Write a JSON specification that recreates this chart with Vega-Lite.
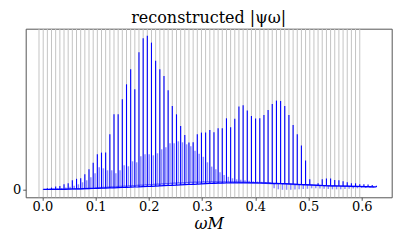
{
"$schema": "https://vega.github.io/schema/vega-lite/v6.json",
"width": 366, "height": 168.6,
"autosize": {"type": "none"},
"padding": {"left": 25.7, "top": 28.7, "right": 15, "bottom": 47},
"title": {"text": "reconstructed |ψω|", "font": "DejaVu Serif", "fontSize": 16, "fontWeight": "normal", "color": "#000", "offset": 2, "anchor": "middle"},
"config": {"view": {"stroke": "#555", "strokeWidth": 1},
  "axis": {"domain": false, "grid": false, "labelFont": "DejaVu Serif", "labelFontSize": 13, "labelColor": "#000", "tickColor": "#333", "tickSize": 3, "tickWidth": 0.8, "labelPadding": 0.5, "titleFont": "DejaVu Serif", "titleColor": "#000", "titleFontWeight": "normal"}},
"data": {"values": [
{"w":-0.0063,"s":"g"},{"w":0.0016,"s":"g"},{"w":0.0094,"s":"g"},{"w":0.0172,"s":"g"},{"w":0.0250,"s":"g"},{"w":0.0329,"s":"g"},{"w":0.0407,"s":"g"},{"w":0.0485,"s":"g"},{"w":0.0563,"s":"g"},{"w":0.0642,"s":"g"},
{"w":0.0720,"s":"g"},{"w":0.0798,"s":"g"},{"w":0.0876,"s":"g"},{"w":0.0955,"s":"g"},{"w":0.1033,"s":"g"},{"w":0.1111,"s":"g"},{"w":0.1189,"s":"g"},{"w":0.1268,"s":"g"},{"w":0.1346,"s":"g"},{"w":0.1424,"s":"g"},
{"w":0.1502,"s":"g"},{"w":0.1581,"s":"g"},{"w":0.1659,"s":"g"},{"w":0.1737,"s":"g"},{"w":0.1815,"s":"g"},{"w":0.1894,"s":"g"},{"w":0.1972,"s":"g"},{"w":0.2050,"s":"g"},{"w":0.2128,"s":"g"},{"w":0.2207,"s":"g"},
{"w":0.2285,"s":"g"},{"w":0.2363,"s":"g"},{"w":0.2441,"s":"g"},{"w":0.2520,"s":"g"},{"w":0.2598,"s":"g"},{"w":0.2676,"s":"g"},{"w":0.2754,"s":"g"},{"w":0.2833,"s":"g"},{"w":0.2911,"s":"g"},{"w":0.2989,"s":"g"},
{"w":0.3067,"s":"g"},{"w":0.3146,"s":"g"},{"w":0.3224,"s":"g"},{"w":0.3302,"s":"g"},{"w":0.3380,"s":"g"},{"w":0.3459,"s":"g"},{"w":0.3537,"s":"g"},{"w":0.3615,"s":"g"},{"w":0.3693,"s":"g"},{"w":0.3772,"s":"g"},
{"w":0.3850,"s":"g"},{"w":0.3928,"s":"g"},{"w":0.4006,"s":"g"},{"w":0.4085,"s":"g"},{"w":0.4163,"s":"g"},{"w":0.4241,"s":"g"},{"w":0.4319,"s":"g"},{"w":0.4398,"s":"g"},{"w":0.4476,"s":"g"},{"w":0.4554,"s":"g"},
{"w":0.4632,"s":"g"},{"w":0.4711,"s":"g"},{"w":0.4789,"s":"g"},{"w":0.4867,"s":"g"},{"w":0.4945,"s":"g"},{"w":0.5024,"s":"g"},{"w":0.5102,"s":"g"},{"w":0.5180,"s":"g"},{"w":0.5258,"s":"g"},{"w":0.5337,"s":"g"},
{"w":0.5415,"s":"g"},{"w":0.5493,"s":"g"},{"w":0.5571,"s":"g"},{"w":0.5650,"s":"g"},{"w":0.5728,"s":"g"},{"w":0.5806,"s":"g"},{"w":0.5884,"s":"g"},{"w":0.5963,"s":"g"},
{"w":0.0016,"lo":0,"hi":0.3,"s":"a"},{"w":0.0094,"lo":0,"hi":1,"s":"a"},{"w":0.0172,"lo":0,"hi":1.7,"s":"a"},{"w":0.0250,"lo":0,"hi":2.7,"s":"a"},{"w":0.0329,"lo":0,"hi":3.3,"s":"a"},
{"w":0.0407,"lo":0,"hi":5,"s":"a"},{"w":0.0485,"lo":0.2,"hi":6,"s":"a"},{"w":0.0563,"lo":0.3,"hi":9,"s":"a"},{"w":0.0642,"lo":0.4,"hi":10.5,"s":"a"},{"w":0.0720,"lo":0.5,"hi":11,"s":"a"},
{"w":0.0798,"lo":0.6,"hi":15,"s":"a"},{"w":0.0876,"lo":0.7,"hi":20,"s":"a"},{"w":0.0955,"lo":0.8,"hi":26.5,"s":"a"},{"w":0.1033,"lo":1,"hi":35,"s":"a"},{"w":0.1111,"lo":1.1,"hi":36.7,"s":"a"},
{"w":0.1189,"lo":1.2,"hi":36.7,"s":"a"},{"w":0.1268,"lo":1.4,"hi":55,"s":"a"},{"w":0.1346,"lo":1.5,"hi":75,"s":"a"},{"w":0.1424,"lo":1.7,"hi":75,"s":"a"},{"w":0.1502,"lo":1.8,"hi":90,"s":"a"},
{"w":0.1581,"lo":2,"hi":105,"s":"a"},{"w":0.1659,"lo":2.1,"hi":120,"s":"a"},{"w":0.1737,"lo":2.3,"hi":100,"s":"a"},{"w":0.1815,"lo":2.4,"hi":137,"s":"a"},{"w":0.1894,"lo":2.6,"hi":151,"s":"a"},
{"w":0.1972,"lo":2.8,"hi":153.5,"s":"a"},{"w":0.2050,"lo":3,"hi":146.7,"s":"a"},{"w":0.2128,"lo":3.2,"hi":128.5,"s":"a"},{"w":0.2207,"lo":3.4,"hi":120,"s":"a"},{"w":0.2285,"lo":3.6,"hi":113.3,"s":"a"},
{"w":0.2363,"lo":3.8,"hi":99,"s":"a"},{"w":0.2441,"lo":4,"hi":83.3,"s":"a"},{"w":0.2520,"lo":4.2,"hi":75,"s":"a"},{"w":0.2598,"lo":4.4,"hi":63.3,"s":"a"},{"w":0.2676,"lo":4.6,"hi":54.3,"s":"a"},
{"w":0.2754,"lo":4.8,"hi":46.7,"s":"a"},{"w":0.2833,"lo":5,"hi":47,"s":"a"},{"w":0.2911,"lo":5.2,"hi":55,"s":"a"},{"w":0.2989,"lo":5.4,"hi":56.7,"s":"a"},{"w":0.3067,"lo":5.6,"hi":56.7,"s":"a"},
{"w":0.3146,"lo":5.8,"hi":59.3,"s":"a"},{"w":0.3224,"lo":6,"hi":57,"s":"a"},{"w":0.3302,"lo":6.1,"hi":61,"s":"a"},{"w":0.3380,"lo":6.2,"hi":61,"s":"a"},{"w":0.3459,"lo":6.3,"hi":71,"s":"a"},
{"w":0.3537,"lo":6.4,"hi":62,"s":"a"},{"w":0.3615,"lo":6.5,"hi":70.5,"s":"a"},{"w":0.3693,"lo":6.5,"hi":82.7,"s":"a"},{"w":0.3772,"lo":6.5,"hi":84,"s":"a"},{"w":0.3850,"lo":6.5,"hi":78.7,"s":"a"},
{"w":0.3928,"lo":6.5,"hi":73.3,"s":"a"},{"w":0.4006,"lo":6.4,"hi":70.7,"s":"a"},{"w":0.4085,"lo":6.3,"hi":71,"s":"a"},{"w":0.4163,"lo":6.2,"hi":74.3,"s":"a"},{"w":0.4241,"lo":6.1,"hi":79.3,"s":"a"},
{"w":0.4319,"lo":6,"hi":85.3,"s":"a"},{"w":0.4398,"lo":5.9,"hi":88.7,"s":"a"},{"w":0.4476,"lo":5.8,"hi":88.3,"s":"a"},{"w":0.4554,"lo":5.6,"hi":83.3,"s":"a"},{"w":0.4632,"lo":5.4,"hi":74.3,"s":"a"},
{"w":0.4711,"lo":5.2,"hi":64.3,"s":"a"},{"w":0.4789,"lo":5,"hi":55,"s":"a"},{"w":0.4867,"lo":4.8,"hi":43.7,"s":"a"},{"w":0.4945,"lo":4.6,"hi":28.7,"s":"a"},{"w":0.5024,"lo":4.4,"hi":10,"s":"a"},
{"w":0.5102,"lo":4.2,"hi":4.4,"s":"a"},{"w":0.5180,"lo":4,"hi":6,"s":"a"},{"w":0.5258,"lo":3.8,"hi":10,"s":"a"},{"w":0.5337,"lo":3.6,"hi":10.7,"s":"a"},{"w":0.5415,"lo":3.5,"hi":10.7,"s":"a"},
{"w":0.5493,"lo":3.4,"hi":9.3,"s":"a"},{"w":0.5571,"lo":3.3,"hi":9,"s":"a"},{"w":0.5650,"lo":3.2,"hi":8,"s":"a"},{"w":0.5728,"lo":3.1,"hi":7,"s":"a"},{"w":0.5806,"lo":3,"hi":6,"s":"a"},
{"w":0.5884,"lo":2.9,"hi":6,"s":"a"},{"w":0.5963,"lo":2.8,"hi":5,"s":"a"},{"w":0.6041,"lo":2.7,"hi":5,"s":"a"},{"w":0.6119,"lo":2.6,"hi":4.7,"s":"a"},{"w":0.6197,"lo":2.5,"hi":4.3,"s":"a"},
{"w":0.6276,"lo":2.4,"hi":3.5,"s":"a"},
{"w":0.0129,"lo":0,"hi":0.3,"s":"b"},{"w":0.0207,"lo":0,"hi":0.5,"s":"b"},{"w":0.0285,"lo":0,"hi":0.8,"s":"b"},{"w":0.0364,"lo":0,"hi":1.2,"s":"b"},{"w":0.0442,"lo":0.1,"hi":1.8,"s":"b"},
{"w":0.0520,"lo":0.2,"hi":2.5,"s":"b"},{"w":0.0598,"lo":0.3,"hi":3.5,"s":"b"},{"w":0.0677,"lo":0.4,"hi":5,"s":"b"},{"w":0.0755,"lo":0.6,"hi":7,"s":"b"},{"w":0.0833,"lo":0.8,"hi":9,"s":"b"},
{"w":0.0911,"lo":1,"hi":12,"s":"b"},{"w":0.0990,"lo":1.2,"hi":16,"s":"b"},{"w":0.1068,"lo":1.5,"hi":22,"s":"b"},{"w":0.1146,"lo":1.8,"hi":21,"s":"b"},{"w":0.1224,"lo":2,"hi":19,"s":"b"},
{"w":0.1303,"lo":2.3,"hi":19,"s":"b"},{"w":0.1381,"lo":2.5,"hi":16,"s":"b"},{"w":0.1459,"lo":2.8,"hi":19,"s":"b"},{"w":0.1537,"lo":3,"hi":24,"s":"b"},{"w":0.1616,"lo":3.2,"hi":23,"s":"b"},
{"w":0.1694,"lo":3.5,"hi":28,"s":"b"},{"w":0.1772,"lo":3.7,"hi":27,"s":"b"},{"w":0.1850,"lo":4,"hi":33,"s":"b"},{"w":0.1929,"lo":4.2,"hi":35,"s":"b"},{"w":0.2007,"lo":4.5,"hi":35,"s":"b"},
{"w":0.2085,"lo":4.7,"hi":34,"s":"b"},{"w":0.2163,"lo":5,"hi":36,"s":"b"},{"w":0.2242,"lo":5.2,"hi":40,"s":"b"},{"w":0.2320,"lo":5.5,"hi":42,"s":"b"},{"w":0.2398,"lo":5.7,"hi":46,"s":"b"},
{"w":0.2476,"lo":6,"hi":46,"s":"b"},{"w":0.2555,"lo":6.2,"hi":48,"s":"b"},{"w":0.2633,"lo":6.4,"hi":47,"s":"b"},{"w":0.2711,"lo":6.6,"hi":45,"s":"b"},{"w":0.2789,"lo":6.8,"hi":43,"s":"b"},
{"w":0.2868,"lo":7,"hi":38.5,"s":"b"},{"w":0.2946,"lo":7,"hi":35.5,"s":"b"},{"w":0.3024,"lo":7.2,"hi":32.5,"s":"b"},{"w":0.3102,"lo":7.2,"hi":27,"s":"b"},{"w":0.3181,"lo":7.3,"hi":22.7,"s":"b"},
{"w":0.3259,"lo":7.3,"hi":20,"s":"b"},{"w":0.3337,"lo":7.3,"hi":17,"s":"b"},{"w":0.3415,"lo":7.3,"hi":14.3,"s":"b"},{"w":0.3494,"lo":7.3,"hi":12.5,"s":"b"},{"w":0.3572,"lo":7.2,"hi":11,"s":"b"},
{"w":0.3650,"lo":7.2,"hi":10,"s":"b"},{"w":0.3728,"lo":7,"hi":9.5,"s":"b"},{"w":0.3807,"lo":7,"hi":9,"s":"b"},{"w":0.3885,"lo":6.8,"hi":8.5,"s":"b"},{"w":0.3963,"lo":6.6,"hi":8,"s":"b"},
{"w":0.4041,"lo":6.4,"hi":7.8,"s":"b"},{"w":0.4120,"lo":6.2,"hi":7.5,"s":"b"},{"w":0.4198,"lo":6,"hi":7.2,"s":"b"},{"w":0.4276,"lo":5.8,"hi":7,"s":"b"},{"w":0.4354,"lo":5.6,"hi":1,"s":"b"},
{"w":0.4433,"lo":5.5,"hi":0,"s":"b"},{"w":0.4511,"lo":5.4,"hi":-0.5,"s":"b"},{"w":0.4589,"lo":5.2,"hi":-0.5,"s":"b"},{"w":0.4667,"lo":5,"hi":-0.5,"s":"b"},{"w":0.4746,"lo":4.8,"hi":-0.3,"s":"b"},
{"w":0.4824,"lo":4.6,"hi":0,"s":"b"},{"w":0.4902,"lo":4.4,"hi":0.3,"s":"b"},{"w":0.4980,"lo":4.2,"hi":0.5,"s":"b"},{"w":0.5059,"lo":4.2,"hi":1,"s":"b"},{"w":0.5137,"lo":4,"hi":1,"s":"b"},
{"w":0.5215,"lo":3.8,"hi":0.8,"s":"b"},{"w":0.5293,"lo":3.6,"hi":0.5,"s":"b"},{"w":0.5372,"lo":3.5,"hi":0.3,"s":"b"},{"w":0.5450,"lo":3.4,"hi":0,"s":"b"},{"w":0.5528,"lo":3.3,"hi":0,"s":"b"},
{"w":0.5606,"lo":3.2,"hi":0,"s":"b"},{"w":0.5685,"lo":3.1,"hi":0.3,"s":"b"},{"w":0.5763,"lo":3,"hi":0.5,"s":"b"},{"w":0.5841,"lo":2.9,"hi":0.8,"s":"b"},{"w":0.5919,"lo":2.8,"hi":1,"s":"b"},
{"w":0.5998,"lo":2.7,"hi":1.2,"s":"b"},{"w":0.6076,"lo":2.6,"hi":1.4,"s":"b"},{"w":0.6154,"lo":2.5,"hi":1.6,"s":"b"},{"w":0.6232,"lo":2.4,"hi":1.8,"s":"b"}
]},
"encoding": {
  "x": {"field": "w", "type": "quantitative", "scale": {"domain": [-0.0313, 0.6563], "nice": false, "zero": false},
        "axis": {"values": [0, 0.1, 0.2, 0.3, 0.4, 0.5, 0.6], "format": ".1f", "title": "ωM", "titleFontSize": 16, "titleFontStyle": "italic", "titlePadding": 2}}
},
"layer": [
  {"transform": [{"filter": "datum.s == 'g'"}], "mark": {"type": "rule", "stroke": "#c4c4c4", "strokeWidth": 1}, "encoding": {}},
  {"transform": [{"filter": "datum.s == 'b'"}], "mark": {"type": "rule", "stroke": "#0000ff", "strokeOpacity": 0.45, "strokeWidth": 1.5},
   "encoding": {"y": {"field": "lo", "type": "quantitative", "scale": {"domain": [-8, 160.6], "nice": false, "zero": false}, "axis": {"values": [0], "format": "d", "title": null, "labelPadding": 2}}, "y2": {"field": "hi"}}},
  {"transform": [{"filter": "datum.s == 'b'"}], "mark": {"type": "line", "stroke": "#0000ff", "strokeOpacity": 0.5, "strokeWidth": 1.5},
   "encoding": {"y": {"field": "lo", "type": "quantitative", "scale": {"domain": [-8, 160.6], "nice": false, "zero": false}, "axis": {"values": [0], "format": "d", "title": null, "labelPadding": 2}}}},
  {"transform": [{"filter": "datum.s == 'a'"}], "mark": {"type": "line", "stroke": "#0000ff", "strokeWidth": 1.2},
   "encoding": {"y": {"field": "lo", "type": "quantitative", "scale": {"domain": [-8, 160.6], "nice": false, "zero": false}, "axis": {"values": [0], "format": "d", "title": null, "labelPadding": 2}}}},
  {"transform": [{"filter": "datum.s == 'a'"}], "mark": {"type": "rule", "stroke": "#0000ff", "strokeWidth": 1.1},
   "encoding": {"y": {"field": "lo", "type": "quantitative", "scale": {"domain": [-8, 160.6], "nice": false, "zero": false}, "axis": {"values": [0], "format": "d", "title": null, "labelPadding": 2}}, "y2": {"field": "hi"}}}
]
}
